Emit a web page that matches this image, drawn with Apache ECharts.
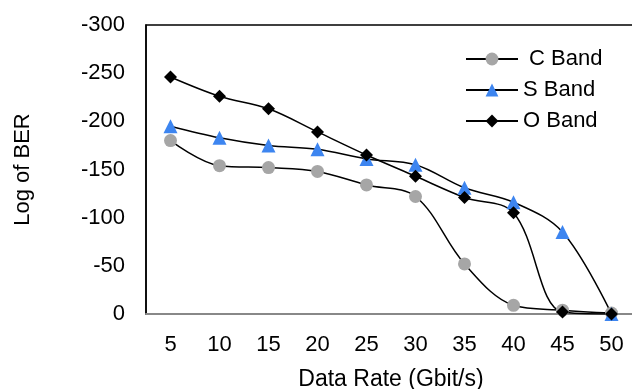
<!DOCTYPE html>
<html>
<head>
<meta charset="utf-8">
<script src="https://cdn.jsdelivr.net/npm/echarts@6/dist/echarts.min.js"></script>
<style>
  html, body { margin: 0; padding: 0; background: #fff; }
  #chart { width: 632px; height: 389px; }
</style>
</head>
<body>
<div id="chart"></div>
<script>
// 数据
const rates = ["5", "10", "15", "20", "25", "30", "35", "40", "45", "50"];
const cBand = [-180, -154, -152, -148, -134, -122, -52, -9, -4, -1];
const sBand = [-195, -183, -175, -171, -161, -155, -131, -116, -85, 0];
const oBand = [-246, -226, -213, -189, -165, -143, -121, -105, -2, 0];

const font = "Liberation Sans, Arial, sans-serif";
const fs = 22;
const chart = echarts.init(document.getElementById("chart"));

const makeSeries = (name, data, symbol, size, color) => ({
  name: name,
  type: "line",
  data: data,
  smooth: 0.35,
  symbol: symbol,
  symbolSize: size,
  itemStyle: { color: color },
  lineStyle: { color: "#000", width: 1.5 },
  emphasis: { disabled: true }
});

chart.setOption({
  animation: false,
  grid: {
    left: 146,
    top: 25,
    width: 490,
    height: 289,
    outerBoundsMode: "none",
    show: true,
    borderColor: "#000",
    borderWidth: 1.5
  },
  legend: {
    left: 460,
    top: 43,
    orient: "vertical",
    itemWidth: 52,
    itemHeight: 16,
    itemGap: 9,
    textStyle: { fontFamily: font, fontSize: fs, color: "#000" },
    data: [" C Band", "S Band", "O Band"]
  },
  xAxis: {
    type: "category",
    data: rates,
    boundaryGap: true,
    name: "Data Rate (Gbit/s)",
    nameLocation: "middle",
    nameGap: 54,
    nameTextStyle: { fontFamily: font, fontSize: fs + 1, color: "#000" },
    axisLine: { lineStyle: { color: "#888", width: 2 } },
    axisTick: { show: false },
    axisLabel: { fontFamily: font, fontSize: fs, color: "#000", margin: 20 }
  },
  yAxis: {
    type: "value",
    min: -300,
    max: 0,
    interval: 50,
    inverse: true,
    name: "Log of BER",
    nameLocation: "middle",
    nameGap: 112,
    nameTextStyle: { fontFamily: font, fontSize: fs, color: "#000" },
    axisLine: { show: true, lineStyle: { color: "#000", width: 1.5 } },
    axisTick: { show: false },
    splitLine: { show: false },
    axisLabel: { fontFamily: font, fontSize: fs, color: "#000", margin: 21 }
  },
  series: [
    makeSeries(" C Band", cBand, "circle", 13, "#a6a6a6"),
    makeSeries("S Band", sBand, "triangle", 14, "#3d85f0"),
    makeSeries("O Band", oBand, "diamond", 13, "#000")
  ]
});
</script>
</body>
</html>
